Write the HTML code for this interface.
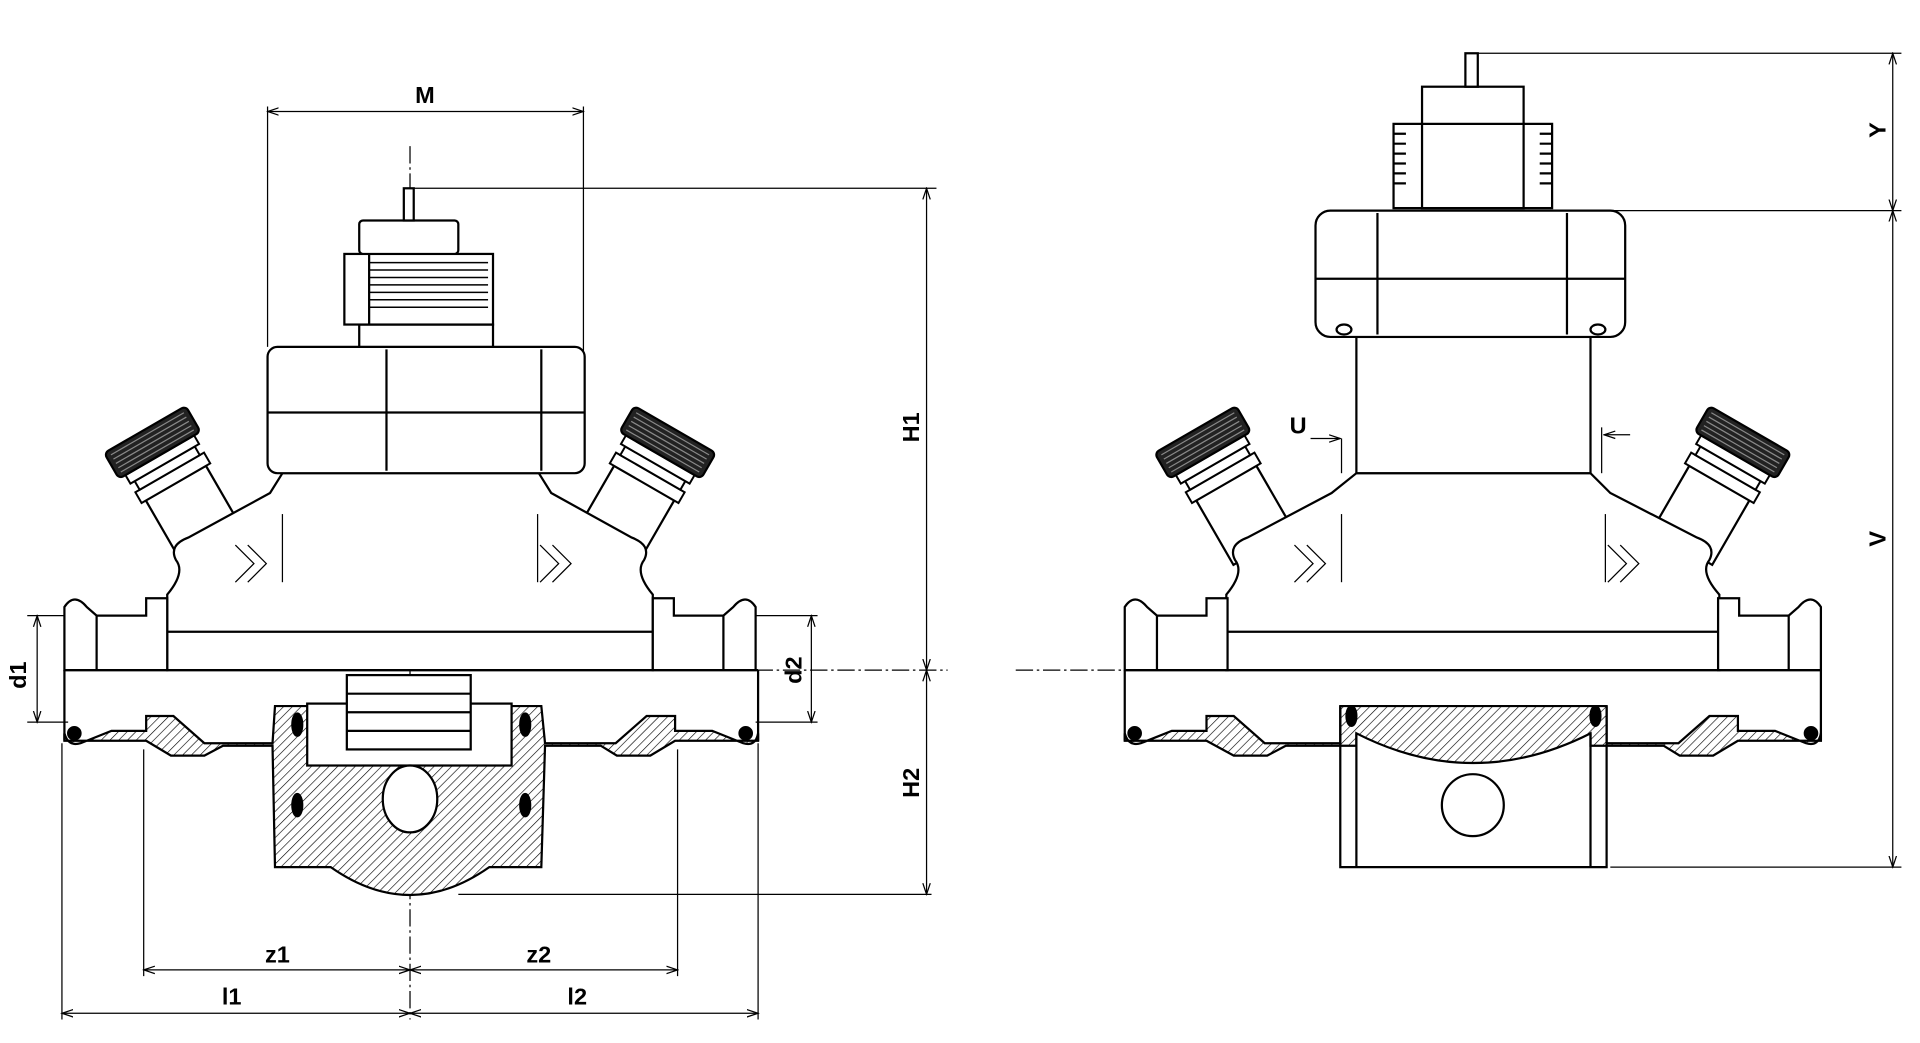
<!DOCTYPE html>
<html><head><meta charset="utf-8"><style>
html,body{margin:0;padding:0;background:#fff;}
svg{display:block;}
text{font-family:"Liberation Sans",sans-serif;font-weight:bold;font-size:19px;fill:#000;}
</style></head><body>
<svg width="1920" height="1043" viewBox="0 0 1550 842" xmlns="http://www.w3.org/2000/svg">
<defs>
<pattern id="h" width="5" height="5" patternUnits="userSpaceOnUse" patternTransform="rotate(45)">
<rect width="5" height="5" fill="#fff"/><line x1="0" y1="0" x2="0" y2="5" stroke="#000" stroke-width="1"/>
</pattern>
<marker id="a" markerWidth="10" markerHeight="8" refX="9" refY="4" orient="auto-start-reverse" markerUnits="userSpaceOnUse">
<path d="M0,1 L9,4 L0,7" fill="none" stroke="#000" stroke-width="1"/></marker>
<g id="port">
<rect x="-28" y="-60" width="56" height="60" fill="#fff" stroke="#000" stroke-width="1.8"/>
<rect x="-32" y="-70" width="64" height="10" fill="#fff" stroke="#000" stroke-width="1.6"/>
<rect x="-28" y="-78" width="56" height="8" fill="#fff" stroke="#000" stroke-width="1.6"/>
<rect x="-32" y="-86" width="64" height="8" fill="#fff" stroke="#000" stroke-width="1.6"/>
<rect x="-38" y="-110" width="76" height="24" rx="4" fill="#222" stroke="#000" stroke-width="1.8"/>
<path d="M-34,-106 h68 M-34,-102 h68 M-34,-98 h68 M-34,-94 h68 M-34,-90 h68" stroke="#888" stroke-width="1"/>
</g>
<g id="flangeL" fill="#fff" stroke="#000" stroke-width="1.8">
<path d="M52,541 L52,490 Q60,478 70,490 L78,497 L118,497 L118,483 L135,483 L135,541 Z"/>
<line x1="78" y1="497" x2="78" y2="541"/>
</g>
</defs>
<g fill="none" stroke="#000" stroke-width="1">
<line x1="216" y1="90" x2="471" y2="90" marker-start="url(#a)" marker-end="url(#a)"/>
<line x1="216" y1="86" x2="216" y2="280"/><line x1="471" y1="86" x2="471" y2="290"/>
<line x1="334" y1="152" x2="756" y2="152"/>
<line x1="748" y1="152" x2="748" y2="541" marker-start="url(#a)" marker-end="url(#a)"/>
<line x1="748" y1="541" x2="748" y2="722" marker-start="url(#a)" marker-end="url(#a)"/>
<line x1="370" y1="722" x2="752" y2="722"/>
<line x1="610" y1="541" x2="765" y2="541" stroke-dasharray="14,3,2,3"/>
<line x1="820" y1="541" x2="905" y2="541" stroke-dasharray="14,3,2,3"/>
<line x1="331" y1="118" x2="331" y2="823" stroke-dasharray="14,3,2,3"/>
<line x1="30" y1="497" x2="30" y2="583" marker-start="url(#a)" marker-end="url(#a)"/>
<line x1="22" y1="497" x2="55" y2="497"/><line x1="22" y1="583" x2="55" y2="583"/>
<line x1="655" y1="497" x2="655" y2="583" marker-start="url(#a)" marker-end="url(#a)"/>
<line x1="610" y1="497" x2="660" y2="497"/><line x1="610" y1="583" x2="660" y2="583"/>
<line x1="116" y1="783" x2="331" y2="783" marker-start="url(#a)" marker-end="url(#a)"/>
<line x1="331" y1="783" x2="547" y2="783" marker-start="url(#a)" marker-end="url(#a)"/>
<line x1="50" y1="818" x2="331" y2="818" marker-start="url(#a)" marker-end="url(#a)"/>
<line x1="331" y1="818" x2="612" y2="818" marker-start="url(#a)" marker-end="url(#a)"/>
<line x1="116" y1="605" x2="116" y2="788"/><line x1="547" y1="605" x2="547" y2="788"/>
<line x1="50" y1="600" x2="50" y2="823"/><line x1="612" y1="600" x2="612" y2="823"/>
<line x1="1193" y1="43" x2="1535" y2="43"/>
<line x1="1528" y1="43" x2="1528" y2="170" marker-start="url(#a)" marker-end="url(#a)"/>
<line x1="1528" y1="170" x2="1528" y2="700" marker-start="url(#a)" marker-end="url(#a)"/>
<line x1="1300" y1="170" x2="1535" y2="170"/><line x1="1300" y1="700" x2="1535" y2="700"/>
<line x1="1058" y1="354" x2="1082" y2="354" marker-end="url(#a)"/>
<line x1="1316" y1="351" x2="1295" y2="351" marker-end="url(#a)"/>
<line x1="1083" y1="354" x2="1083" y2="382"/><line x1="1293" y1="345" x2="1293" y2="382"/>
</g>
<text x="343" y="83" text-anchor="middle">M</text>
<text transform="translate(742,345) rotate(-90)" text-anchor="middle">H1</text>
<text transform="translate(742,632) rotate(-90)" text-anchor="middle">H2</text>
<text transform="translate(21,545) rotate(-90)" text-anchor="middle">d1</text>
<text transform="translate(647,541) rotate(-90)" text-anchor="middle">d2</text>
<text x="224" y="777" text-anchor="middle">z1</text>
<text x="435" y="777" text-anchor="middle">z2</text>
<text x="187" y="811" text-anchor="middle">l1</text>
<text x="466" y="811" text-anchor="middle">l2</text>
<text transform="translate(1522,105) rotate(-90)" text-anchor="middle">Y</text>
<text transform="translate(1522,435) rotate(-90)" text-anchor="middle">V</text>
<text x="1048" y="350" text-anchor="middle">U</text>

<g stroke="#000" stroke-width="1.8" fill="#fff">
<use href="#port" transform="translate(172,442) rotate(-30)"/>
<use href="#port" transform="translate(490,442) rotate(30)"/>
<path d="M135,541 L135,480 Q150,462 142,452 Q136,440 152,434 L218,398 L228,382 L435,382 L445,398 L510,434 Q526,440 520,452 Q512,462 527,480 L527,541 Z"/>
<line x1="135" y1="510" x2="527" y2="510"/>
<use href="#flangeL"/>
<use href="#flangeL" transform="translate(662,0) scale(-1,1)"/>
<rect x="216" y="280" width="256" height="102" rx="8"/>
<line x1="216" y1="333" x2="472" y2="333"/><line x1="312" y1="282" x2="312" y2="380"/><line x1="437" y1="282" x2="437" y2="380"/>
<rect x="290" y="262" width="108" height="18"/>
<rect x="278" y="205" width="120" height="57"/>
<path d="M298,212 h96 M298,218 h96 M298,224 h96 M298,230 h96 M298,236 h96 M298,242 h96 M298,248 h96" fill="none" stroke-width="1.2"/>
<line x1="298" y1="205" x2="298" y2="262"/>
<rect x="290" y="178" width="80" height="27" rx="3"/>
<rect x="326" y="152" width="8" height="26"/>
<path d="M190,440 L205,455 L190,470 M200,440 L215,455 L200,470 M436,440 L451,455 L436,470 M446,440 L461,455 L446,470" fill="none" stroke-width="1"/>
<line x1="228" y1="415" x2="228" y2="470" stroke-width="1"/><line x1="434" y1="415" x2="434" y2="470" stroke-width="1"/>
<line x1="52" y1="541" x2="612" y2="541"/>
<line x1="52" y1="541" x2="52" y2="598"/><line x1="612" y1="541" x2="612" y2="598"/>
<path d="M52,592 Q55,603 65,600 L90,590 L118,590 L118,578 L140,578 L165,600 L220,600 L222,570 L437,570 L440,600 L497,600 L522,578 L545,578 L545,590 L575,590 L600,600 Q610,603 612,592 L612,598 L545,598 L525,610 L498,610 L485,602 L440,602 L437,700 L395,700 Q331,745 267,700 L222,700 L220,602 L180,602 L165,610 L138,610 L118,598 L52,598 Z" fill="url(#h)"/>
<rect x="248" y="568" width="165" height="50" fill="#fff"/>
<rect x="280" y="545" width="100" height="60" fill="#fff"/>
<line x1="280" y1="560" x2="380" y2="560"/><line x1="280" y1="575" x2="380" y2="575"/><line x1="280" y1="590" x2="380" y2="590"/>
<ellipse cx="331" cy="645" rx="22" ry="27" fill="#fff"/>
<circle cx="60" cy="592" r="5" fill="#000"/><circle cx="602" cy="592" r="5" fill="#000"/>
<ellipse cx="240" cy="585" rx="4" ry="9" fill="#000"/><ellipse cx="424" cy="585" rx="4" ry="9" fill="#000"/>
<ellipse cx="240" cy="650" rx="4" ry="9" fill="#000"/><ellipse cx="424" cy="650" rx="4" ry="9" fill="#000"/>
</g>

<g stroke="#000" stroke-width="1.8" fill="#fff">
<use href="#port" transform="translate(1020,442) rotate(-30)"/>
<use href="#port" transform="translate(1358,442) rotate(30)"/>
<path d="M990,541 L990,480 Q1005,462 997,452 Q991,440 1007,434 L1075,398 L1095,382 L1284,382 L1300,398 L1370,434 Q1386,440 1380,452 Q1372,462 1388,480 L1388,541 Z"/>
<line x1="990" y1="510" x2="1388" y2="510"/>
<use href="#flangeL" transform="translate(856,0)"/>
<use href="#flangeL" transform="translate(1522,0) scale(-1,1)"/>
<rect x="1095" y="272" width="189" height="110"/>
<rect x="1062" y="170" width="250" height="102" rx="12"/>
<line x1="1062" y1="225" x2="1312" y2="225"/><line x1="1112" y1="172" x2="1112" y2="270"/><line x1="1265" y1="172" x2="1265" y2="270"/>
<ellipse cx="1085" cy="266" rx="6" ry="4"/><ellipse cx="1290" cy="266" rx="6" ry="4"/>
<rect x="1125" y="100" width="128" height="68"/>
<path d="M1125,108 h10 M1125,116 h10 M1125,124 h10 M1125,132 h10 M1125,140 h10 M1125,148 h10 M1243,108 h10 M1243,116 h10 M1243,124 h10 M1243,132 h10 M1243,140 h10 M1243,148 h10" fill="none"/>
<rect x="1148" y="100" width="82" height="68"/>
<rect x="1148" y="70" width="82" height="30"/>
<rect x="1183" y="43" width="10" height="27"/>
<path d="M1045,440 L1060,455 L1045,470 M1055,440 L1070,455 L1055,470 M1298,440 L1313,455 L1298,470 M1308,440 L1323,455 L1308,470" fill="none" stroke-width="1"/>
<line x1="1083" y1="415" x2="1083" y2="470" stroke-width="1"/><line x1="1296" y1="415" x2="1296" y2="470" stroke-width="1"/>
<line x1="908" y1="541" x2="1470" y2="541"/>
<line x1="908" y1="541" x2="908" y2="598"/><line x1="1470" y1="541" x2="1470" y2="598"/>
<path d="M908,592 Q911,603 921,600 L946,590 L974,590 L974,578 L996,578 L1021,600 L1082,600 L1082,570 L1297,570 L1297,600 L1355,600 L1380,578 L1403,578 L1403,590 L1433,590 L1458,600 Q1468,603 1470,592 L1470,598 L1403,598 L1383,610 L1356,610 L1343,602 L1297,602 L1284,602 L1284,592 Q1189,640 1095,592 L1095,602 L1038,602 L1023,610 L996,610 L974,598 L908,598 Z" fill="url(#h)"/>
<path d="M1082,570 L1082,700 L1297,700 L1297,570" fill="none"/>
<path d="M1095,592 L1095,700 M1284,592 L1284,700" fill="none"/>
<circle cx="1189" cy="650" r="25"/>
<circle cx="916" cy="592" r="5" fill="#000"/><circle cx="1462" cy="592" r="5" fill="#000"/>
<ellipse cx="1091" cy="578" rx="4" ry="8" fill="#000"/><ellipse cx="1288" cy="578" rx="4" ry="8" fill="#000"/>
</g>
</svg>
</body></html>
